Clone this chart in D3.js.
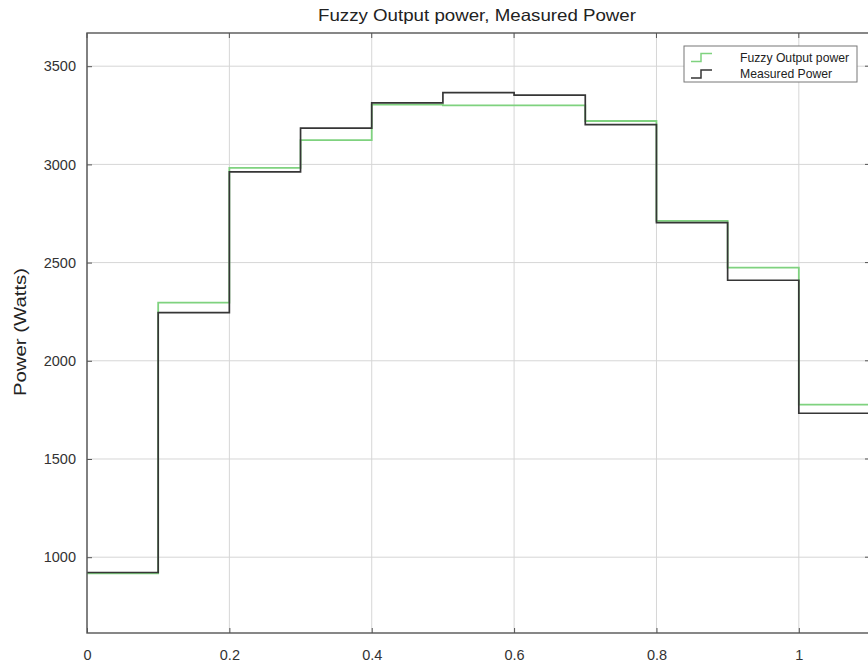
<!DOCTYPE html>
<html><head><meta charset="utf-8">
<script src="https://cdn.jsdelivr.net/npm/d3@7"></script>
<style>body{margin:0;background:#fff}svg{display:block}text{font-family:"Liberation Sans",Arial,sans-serif}</style>
</head><body><svg id="c" width="868" height="666"></svg>
<script>
const times = [0, 0.1, 0.2, 0.3, 0.4, 0.5, 0.6, 0.7, 0.8, 0.9, 1.0, 1.1];
const fuzzy = [918, 2296, 2982, 3124, 3304, 3300, 3300, 3221, 2712, 2474, 1777, 1777];
const measured = [922, 2245, 2962, 3185, 3313, 3365, 3353, 3202, 2703, 2410, 1733, 1733];
const xTicks = [0, 0.2, 0.4, 0.6, 0.8, 1];
const yTicks = [1000, 1500, 2000, 2500, 3000, 3500];
const title = "Fuzzy Output power, Measured Power";
const yLabel = "Power (Watts)";
const seriesNames = ["Fuzzy Output power", "Measured Power"];
const colors = ["#7fd27f", "#363636"];

const svg = d3.select("#c");
const L = 87, R = 870, T = 33, B = 633;
const x = d3.scaleLinear().domain([0, 1.1]).range([L, R]);
const y = d3.scaleLinear().domain([614, 3669]).range([B, T]);

// grid
svg.append("g").selectAll("line").data(xTicks).join("line")
  .attr("x1", d => x(d)).attr("x2", d => x(d)).attr("y1", T).attr("y2", B)
  .attr("stroke", "#d6d6d6").attr("stroke-width", 1);
svg.append("g").selectAll("line").data(yTicks).join("line")
  .attr("y1", d => y(d)).attr("y2", d => y(d)).attr("x1", L).attr("x2", R)
  .attr("stroke", "#d6d6d6").attr("stroke-width", 1);

// axes
const xAx = svg.append("g").attr("transform", `translate(0,${B})`)
  .call(d3.axisBottom(x).tickValues(xTicks).tickSize(-5).tickPadding(17).tickFormat(d3.format("~g")));
const yAx = svg.append("g").attr("transform", `translate(${L},0)`)
  .call(d3.axisLeft(y).tickValues(yTicks).tickSize(-5).tickPadding(11).tickFormat(d3.format("d")));
[xAx, yAx].forEach(a => {
  a.select(".domain").remove();
  a.selectAll(".tick line").attr("stroke", "#555");
  a.selectAll(".tick text").attr("fill", "#333").style("font-size", "14.5px");
});
// right/top ticks
svg.append("g").selectAll("line").data(yTicks).join("line")
  .attr("x1", R).attr("x2", R - 5).attr("y1", d => y(d)).attr("y2", d => y(d)).attr("stroke", "#555");
svg.append("g").selectAll("line").data(xTicks).join("line")
  .attr("x1", d => x(d)).attr("x2", d => x(d)).attr("y1", T).attr("y2", T + 5).attr("stroke", "#555");

// lines
const line = d3.line().x((d, i) => x(times[i])).y(d => y(d)).curve(d3.curveStepAfter);
[fuzzy, measured].forEach((s, k) => {
  svg.append("path").datum(s).attr("d", line).attr("fill", "none")
    .attr("stroke", colors[k]).attr("stroke-width", k === 0 ? 1.8 : 1.7);
});

// frame
svg.append("rect").attr("x", L).attr("y", T).attr("width", R - L).attr("height", B - T)
  .attr("fill", "none").attr("stroke", "#555").attr("stroke-width", 1.4);

// title & label
svg.append("text").attr("x", 477).attr("y", 21).attr("text-anchor", "middle")
  .style("font-size", "16.5px").attr("fill", "#222")
  .attr("textLength", 318).attr("lengthAdjust", "spacingAndGlyphs").text(title);
svg.append("text").attr("transform", "translate(26,332) rotate(-90)").attr("text-anchor", "middle")
  .style("font-size", "17px").attr("fill", "#222")
  .attr("textLength", 128).attr("lengthAdjust", "spacingAndGlyphs").text(yLabel);

// legend
const lg = svg.append("g");
lg.append("rect").attr("x", 684).attr("y", 46).attr("width", 173).attr("height", 36)
  .attr("fill", "#fff").attr("stroke", "#777").attr("stroke-width", 1);
seriesNames.forEach((n, k) => {
  const yy = 57.5 + k * 16.5;
  lg.append("path").attr("d", `M691,${yy + 4}H701V${yy - 4}H712`).attr("fill", "none")
    .attr("stroke", colors[k]).attr("stroke-width", 1.5);
  lg.append("text").attr("x", 740).attr("y", yy + 4).style("font-size", "12.2px")
    .attr("fill", "#222").text(n);
});
</script></body></html>
